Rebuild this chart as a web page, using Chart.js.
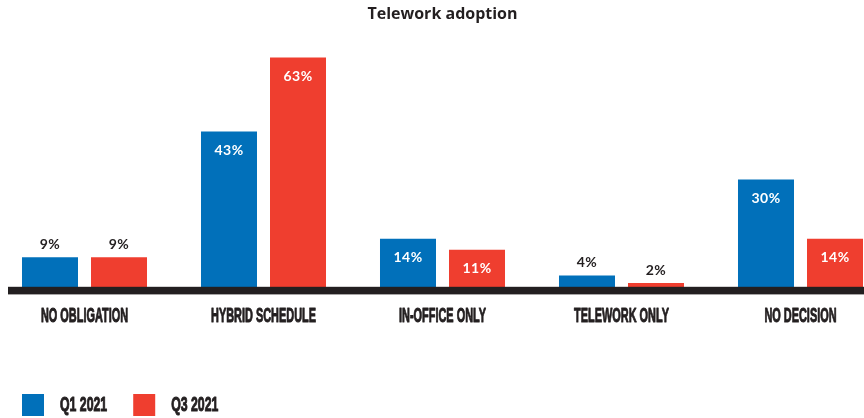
<!DOCTYPE html>
<html>
<head>
<meta charset="utf-8">
<script src="https://cdn.jsdelivr.net/npm/chart.js@4.4.1/dist/chart.umd.min.js"></script>
<style>
  html, body { margin: 0; padding: 0; background: #fff; }
  #wrap { width: 864px; height: 418px; }
</style>
</head>
<body>
<div id="wrap"><canvas id="chart" width="864" height="418"></canvas></div>
<script>
const categories = ['NO OBLIGATION', 'HYBRID SCHEDULE', 'IN-OFFICE ONLY', 'TELEWORK ONLY', 'NO DECISION'];
const q1Values = [9, 43, 14, 4, 30];
const q3Values = [9, 63, 11, 2, 14];
const seriesNames = ['Q1 2021', 'Q3 2021'];

const BLUE = '#0170BA';
const RED = '#EF3E2F';
const INK = '#231F20';
const NARROW = '"Liberation Sans", Arial, sans-serif';

// thick black baseline running nearly the full width
const baselinePlugin = {
    id: 'baseline',
    afterDatasetsDraw(chart) {
        const ctx = chart.ctx;
        const y0 = chart.scales.y.getPixelForValue(0);
        ctx.save();
        ctx.fillStyle = INK;
        ctx.fillRect(8, y0 - 3.6, chart.width - 8, 7.6);
        ctx.restore();
    }
};

// value labels: inside the bar (white) when tall, above it (dark) when short
const valueLabels = {
    id: 'valueLabels',
    afterDatasetsDraw(chart) {
        const ctx = chart.ctx;
        ctx.save();
        ctx.font = 'bold 14px Lato, "Noto Sans", sans-serif';
        ctx.letterSpacing = '0.5px';
        ctx.textAlign = 'center';
        ctx.textBaseline = 'middle';
        chart.data.datasets.forEach((ds, di) => {
            chart.getDatasetMeta(di).data.forEach((bar, i) => {
                const v = ds.data[i];
                if (v >= 10) {
                    ctx.fillStyle = '#fff';
                    ctx.fillText(v + '%', bar.x, bar.y + 19);
                } else {
                    ctx.fillStyle = INK;
                    ctx.fillText(v + '%', bar.x, bar.y - 13);
                }
            });
        });
        ctx.restore();
    }
};

// squeezed + slightly emboldened text, to mimic the condensed display face of the original
function squeezedText(ctx, text, x, y, sx, align) {
    ctx.save();
    ctx.translate(x, y);
    ctx.scale(sx, 1);
    ctx.textAlign = align;
    ctx.lineWidth = 1;
    ctx.lineJoin = 'round';
    ctx.strokeText(text, 0, 0);
    ctx.fillText(text, 0, 0);
    ctx.restore();
}

// category labels under the baseline + legend texts
const condensedText = {
    id: 'condensedText',
    afterDraw(chart) {
        const ctx = chart.ctx;
        const xs = chart.scales.x;
        const y = chart.scales.y.getPixelForValue(0) + 26;
        ctx.save();
        ctx.fillStyle = INK;
        ctx.strokeStyle = INK;
        ctx.textBaseline = 'middle';
        ctx.font = 'bold 21px ' + NARROW;
        categories.forEach((label, i) => {
            squeezedText(ctx, label, xs.getPixelForValue(i), y, 0.52, 'center');
        });

        const legend = chart.legend;
        ctx.font = 'bold 19.5px ' + NARROW;
        legend.legendItems.forEach((item, i) => {
            const box = legend.legendHitBoxes[i];
            squeezedText(ctx, item.text, box.left + 38, box.top + 12, 0.63, 'left');
        });
        ctx.restore();
    }
};

const ctx = document.getElementById('chart').getContext('2d');
new Chart(ctx, {
    type: 'bar',
    data: {
        labels: categories,
        datasets: [
            { label: seriesNames[0], data: q1Values, backgroundColor: BLUE },
            { label: seriesNames[1], data: q3Values, backgroundColor: RED }
        ]
    },
    options: {
        responsive: false,
        animation: false,
        layout: { padding: { left: 0, right: 0, top: 0, bottom: -8 } },
        datasets: {
            bar: {
                categoryPercentage: 0.771,
                barPercentage: 0.8116,
                clip: false
            }
        },
        plugins: {
            title: {
                display: true,
                text: 'Telework adoption',
                fullSize: false,
                color: INK,
                font: { family: '"Open Sans", Lato, sans-serif', size: 16, weight: 'bold' },
                padding: { top: 5, bottom: 7.4 }
            },
            legend: {
                position: 'bottom',
                align: 'start',
                labels: {
                    boxWidth: 22,
                    boxHeight: 22,
                    padding: 22,
                    color: 'rgba(0,0,0,0)',
                    font: { family: NARROW, size: 15.5, weight: 'bold' }
                }
            },
            tooltip: { enabled: false }
        },
        scales: {
            x: {
                offset: false,
                grid: { display: false },
                border: { display: false },
                ticks: { display: false },
                afterFit(scale) { scale.height = 81.6; }
            },
            y: {
                min: 0,
                max: 70,
                grid: { display: false },
                border: { display: false },
                ticks: { display: false },
                afterFit(scale) { scale.width = 84.5; }
            },
            yRight: {
                position: 'right',
                display: true,
                grid: { display: false },
                border: { display: false },
                ticks: { display: false },
                afterFit(scale) { scale.width = 63.5; }
            }
        }
    },
    plugins: [baselinePlugin, valueLabels, condensedText]
});
</script>
</body>
</html>
